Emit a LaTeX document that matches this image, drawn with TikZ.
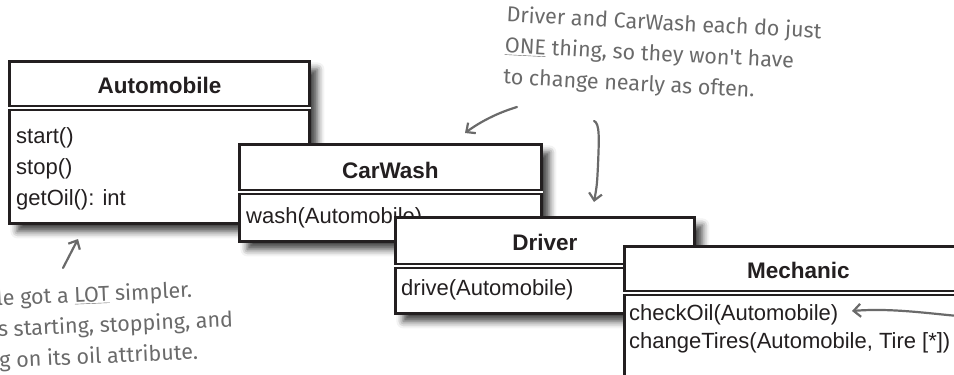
\documentclass[tikz,border=0pt]{standalone}
\usepackage{fontspec}
\setmainfont{Liberation Sans}
\newfontfamily\handfont{Fira Sans}
\usetikzlibrary{positioning, calc, arrows.meta, shadows.blur}
\definecolor{umlInk}{HTML}{231F20}
\definecolor{noteGray}{HTML}{6A6A6A}

\begin{document}
\begin{tikzpicture}[x=1pt, y=-1pt,
    classbox/.style={rectangle, draw=umlInk, line width=2.8pt, fill=white, anchor=north west, inner sep=0pt,
        blur shadow={shadow xshift=8pt, shadow yshift=-8pt, shadow blur radius=7pt, shadow opacity=75}},
    classname/.style={font=\fontsize{22.5}{26}\selectfont\bfseries, text=umlInk},
    ops/.style={anchor=north west, inner sep=0pt, align=left, text=umlInk},
    sep/.style={draw=umlInk, line width=1.7pt, double, double distance=2.4pt},
    note/.style={font=\handfont\fontsize{21.5}{31}\selectfont, text=noteGray, align=left, inner sep=0pt},
    pen/.style={draw=noteGray, line width=2.2pt, line cap=round, -{Straight Barb[length=7pt, width=13pt]}},
]
    \useasboundingbox (0,0) rectangle (954,375);
    \clip (0,0) rectangle (954,375);

    % Automobile
    \node[classbox, minimum width=300, minimum height=162] (auto) at (8,60) {};
    \node[classname] (autoName) at ($(auto.north)+(0,25)$) {Automobile};
    \draw[sep] ($(auto.north west)+(0,48)$) -- ($(auto.north east)+(0,48)$);
    \node[ops, font=\fontsize{22}{31}\selectfont] (autoOps) at ($(auto.north west)+(8,67)$)
        {start()\\stop()\\getOil(): int};

    % CarWash
    \node[classbox, minimum width=302, minimum height=97] (wash) at (238,143) {};
    \node[classname] (washName) at ($(wash.north)+(0,27)$) {CarWash};
    \draw[sep] ($(wash.north west)+(0,49)$) -- ($(wash.north east)+(0,49)$);
    \node[ops, font=\fontsize{22}{31}\selectfont] (washOps) at ($(wash.north west)+(8,64)$)
        {wash(Automobile)};

    % Driver
    \node[classbox, minimum width=299, minimum height=96] (driver) at (394,216) {};
    \node[classname] (driverName) at ($(driver.north)+(0,26)$) {Driver};
    \draw[sep] ($(driver.north west)+(0,50)$) -- ($(driver.north east)+(0,50)$);
    \node[ops, font=\fontsize{22}{31}\selectfont] (driverOps) at ($(driver.north west)+(7,63)$)
        {drive(Automobile)};

    % Mechanic
    \node[classbox, minimum width=348, minimum height=170] (mech) at (623,245) {};
    \node[classname] (mechName) at ($(mech.north)+(0,25)$) {Mechanic};
    \draw[sep] ($(mech.north west)+(0,48)$) -- ($(mech.north east)+(0,48)$);
    \node[ops, font=\fontsize{22}{28}\selectfont] (mechOps) at ($(mech.north west)+(6,59)$)
        {checkOil(Automobile)\\changeTires(Automobile, Tire [*])};

    % Notes
    \node[note, rotate=-3, anchor=north west] (oneNote) at (507,5)
        {Driver and CarWash each do just\\\underline{ONE} thing, so they won't have\\to change nearly as often.};
    \node[note, rotate=2.5, anchor=north west] (lotNote) at (-4,289)
        {le got a \underline{LOT} simpler.\\s starting, stopping, and\\g on its oil attribute.};

    % Pen arrows
    \coordinate (washFrom) at (517,107);
    \coordinate (washTip) at (465,133);
    \coordinate (driverFrom) at (594,121);
    \coordinate (driverTip) at (594,202);
    \coordinate (autoFrom) at (63,268);
    \coordinate (autoTip) at (78,239);
    \coordinate (oilFrom) at (958,316);
    \coordinate (oilTip) at (852,311);
    \draw[pen] (washFrom) .. controls (497,113) and (480,122) .. (washTip);
    \draw[pen] (driverFrom) .. controls (600,123) and (599,140) .. (598,165) .. controls (597,185) .. (driverTip);
    \draw[pen] (autoFrom) -- (autoTip);
    \draw[pen] (oilFrom) .. controls (925,313) and (890,308) .. (oilTip);
\end{tikzpicture}
\end{document}
